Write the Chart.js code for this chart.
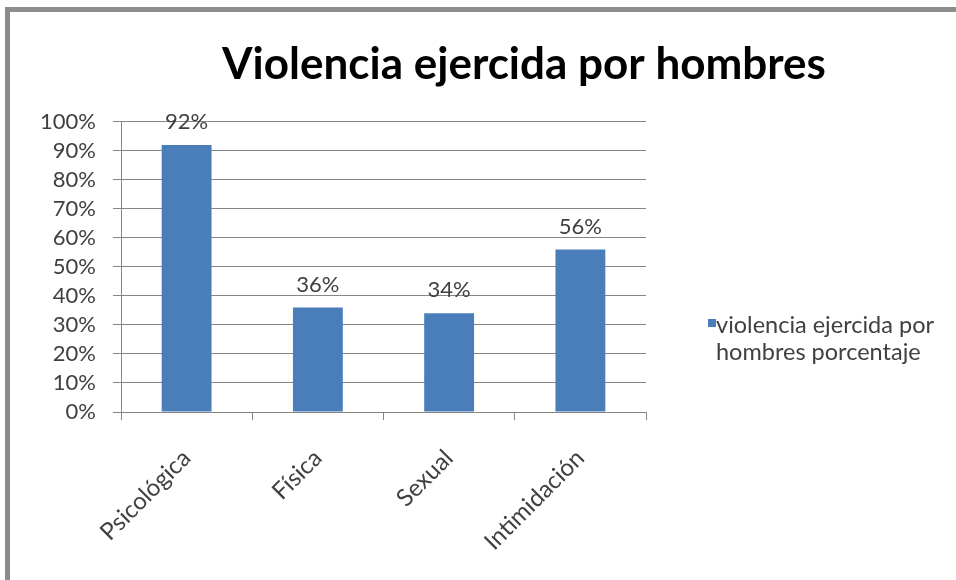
<!DOCTYPE html>
<html lang="es">
<head>
    <meta charset="UTF-8">
    <title>Violencia ejercida por hombres</title>
    <script src="https://cdn.jsdelivr.net/npm/chart.js"></script>
    <style>
        html, body { margin: 0; padding: 0; overflow: hidden; background: #fff; }
        #wrap { position: relative; width: 956px; height: 580px; overflow: hidden; font-family: Lato, sans-serif; }
        #chart { position: absolute; left: 0; top: 0; }
        #legend { position: absolute; left: 708px; top: 311px; color: #404040; font-size: 23.5px; line-height: 27px; }
        #legend .box { position: absolute; left: 0; top: 8px; width: 8px; height: 8px; }
        #legend .txt { margin-left: 8px; white-space: nowrap; }
    </style>
</head>
<body>
<div id="wrap">
    <canvas id="chart" width="1048" height="580"></canvas>
    <div id="legend"></div>
</div>

    <script>
        // Datos
        const chartTitle = 'Violencia ejercida por hombres';
        const categories = ['Psicológica', 'Física', 'Sexual', 'Intimidación'];
        const values = [92, 36, 34, 56];
        const seriesLabel = ['violencia ejercida por', 'hombres porcentaje'];
        const yTicks = [0, 10, 20, 30, 40, 50, 60, 70, 80, 90, 100];

        const barColor = '#4a7ebb';
        const gridColor = '#868686';
        const textColor = '#404040';

        // Marco gris del grafico (solo se ven el borde superior e izquierdo)
        const chartFrame = {
            id: 'chartFrame',
            beforeDraw(chart) {
                const ctx = chart.ctx;
                ctx.save();
                ctx.fillStyle = '#8c8c8c';
                ctx.fillRect(5, 7, chart.width, 5);
                ctx.fillRect(5, 7, 5, chart.height);
                ctx.restore();
            }
        };

        // Etiquetas de valor encima de cada barra
        const valueLabels = {
            id: 'valueLabels',
            afterDatasetsDraw(chart) {
                const ctx = chart.ctx;
                const meta = chart.getDatasetMeta(0);
                ctx.save();
                ctx.font = '22px Lato';
                ctx.fillStyle = textColor;
                ctx.textAlign = 'center';
                ctx.textBaseline = 'bottom';
                meta.data.forEach((bar, i) => {
                    ctx.fillText(values[i] + '%', bar.x, bar.y - 12);
                });
                ctx.restore();
            }
        };

        // Leyenda en HTML (dos lineas, como en el original)
        const legend = document.getElementById('legend');
        legend.innerHTML = '<span class="box" style="background:' + barColor + '"></span>' +
            '<div class="txt">' + seriesLabel.join('<br>') + '</div>';

        new Chart(document.getElementById('chart'), {
            type: 'bar',
            data: {
                labels: categories,
                datasets: [{
                    label: seriesLabel.join(' '),
                    data: values,
                    backgroundColor: barColor,
                    categoryPercentage: 1,
                    barPercentage: 0.38
                }]
            },
            options: {
                responsive: false,
                animation: false,
                layout: { padding: 0 },
                plugins: {
                    legend: { display: false },
                    tooltip: { enabled: false },
                    title: {
                        display: true,
                        text: chartTitle,
                        color: '#000',
                        font: { family: 'Lato', size: 44, weight: 'bold' },
                        padding: { top: 38, bottom: 31 }
                    }
                },
                scales: {
                    x: {
                        grid: { display: true, drawOnChartArea: false, tickLength: 8, color: gridColor },
                        border: { color: gridColor },
                        ticks: {
                            color: textColor,
                            font: { family: 'Lato', size: 24 },
                            maxRotation: 45,
                            minRotation: 45,
                            padding: 24
                        },
                        afterFit: s => { s.height = 168; }
                    },
                    y: {
                        min: 0,
                        max: 100,
                        afterBuildTicks: s => { s.ticks = yTicks.map(v => ({ value: v })); },
                        grid: { color: gridColor, tickLength: 8 },
                        border: { color: gridColor },
                        ticks: {
                            color: textColor,
                            font: { family: 'Lato', size: 22 },
                            autoSkip: false,
                            padding: 17,
                            callback: v => v + '%'
                        },
                        afterFit: s => { s.width = 121; }
                    },
                    // espacio reservado a la derecha (zona de la leyenda)
                    spacer: {
                        position: 'right',
                        grid: { display: false },
                        border: { display: false },
                        ticks: { display: false },
                        afterFit: s => { s.width = 402; }
                    }
                }
            },
            plugins: [chartFrame, valueLabels]
        });
    </script>
</body>
</html>
